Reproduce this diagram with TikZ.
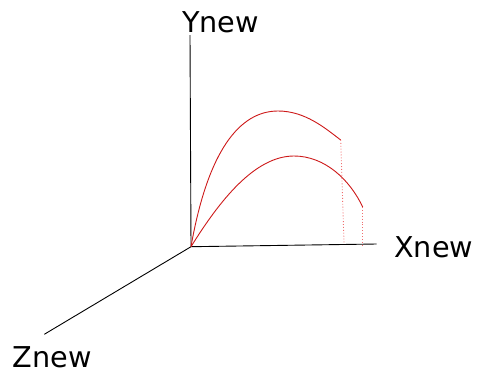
\documentclass[tikz,border=0pt]{standalone}
\usepackage{fontspec}
\setmainfont{DejaVu Sans}
\begin{document}
\begin{tikzpicture}[x=1pt,y=-1pt,
  axis/.style={draw=black,line width=0.9pt},
  traj/.style={draw={rgb,255:red,205;green,25;blue,25},line width=0.9pt},
  drop/.style={draw={rgb,255:red,240;green,110;blue,110},line width=0.9pt,dotted},
  lbl/.style={anchor=base west,inner sep=0pt,font=\fontsize{28.7}{30}\selectfont}]
\useasboundingbox (0,0) rectangle (477,373);
\coordinate (O) at (191,246.7);
\coordinate (Yend) at (190,35);
\coordinate (Xend) at (376.7,244);
\coordinate (Zend) at (44.3,334.3);
\coordinate (Ap) at (278,111);
\coordinate (A) at (340.7,140);
\coordinate (Af) at (344,242.3);
\coordinate (Bp) at (294,156);
\coordinate (B) at (362.7,207);
\coordinate (Bf) at (362.7,245.7);
\draw[axis] (O) -- (Yend);
\draw[axis] (O) -- (Xend);
\draw[axis] (O) -- (Zend);
\draw[traj] (O) .. controls (208,150) and (240,111) .. (Ap)
  .. controls (305,111) and (325,128) .. (A);
\draw[traj] (O) .. controls (220,200) and (255,156) .. (Bp)
  .. controls (325,156) and (350,180) .. (B);
\draw[drop] (A) -- (Af);
\draw[drop] (B) -- (Bf);
\node[lbl] (ylab) at (182,32) {Ynew};
\node[lbl] (xlab) at (394,257) {Xnew};
\node[lbl] (zlab) at (12.7,367) {Znew};
\end{tikzpicture}
\end{document}
